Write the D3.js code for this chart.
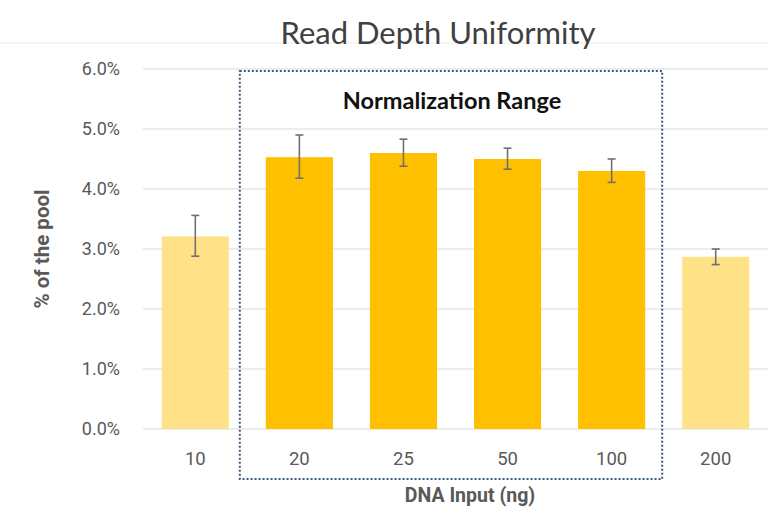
<!DOCTYPE html>
<html>
<head>
<meta charset="utf-8">
<script src="https://cdn.jsdelivr.net/npm/d3@7"></script>
<style>
  body { margin: 0; background: #fff; }
</style>
</head>
<body>
<div id="chart"></div>
<script>
// data
const categories = ["10", "20", "25", "50", "100", "200"];
const values = [3.21, 4.53, 4.60, 4.50, 4.30, 2.87];
const errLow = [2.88, 4.18, 4.38, 4.33, 4.11, 2.74];
const errHigh = [3.56, 4.90, 4.83, 4.68, 4.50, 3.00];
const inRange = [false, true, true, true, true, false];
const yTicks = [0, 1, 2, 3, 4, 5, 6];

const W = 768, H = 516;
const svg = d3.select("#chart")
    .append("svg")
    .attr("width", W)
    .attr("height", H);

const x = d3.scaleBand()
    .domain(categories)
    .range([143, 768])
    .paddingInner(0.355)
    .paddingOuter(0.18);

const y = d3.scaleLinear()
    .domain([0, 6])
    .range([429, 69]);

// faint line under the title
svg.append("line")
    .attr("x1", 0).attr("x2", W)
    .attr("y1", 43).attr("y2", 43)
    .attr("stroke", "#ececec")
    .attr("stroke-width", 1);

// gridlines
svg.append("g")
    .selectAll("line")
    .data(yTicks)
    .join("line")
    .attr("x1", 143).attr("x2", W)
    .attr("y1", d => y(d)).attr("y2", d => y(d))
    .attr("stroke", "#d9d9d9")
    .attr("stroke-width", 1.2);

// y tick labels
svg.append("g")
    .selectAll("text")
    .data(yTicks)
    .join("text")
    .attr("x", 120)
    .attr("y", d => y(d))
    .attr("dy", "0.35em")
    .attr("text-anchor", "end")
    .attr("font-family", "Roboto, Arial, sans-serif")
    .attr("font-size", 18)
    .attr("fill", "#595959")
    .text(d => d.toFixed(1) + "%");

// bars
svg.append("g")
    .selectAll("rect")
    .data(categories)
    .join("rect")
    .attr("x", d => x(d))
    .attr("width", x.bandwidth())
    .attr("y", (d, i) => y(values[i]))
    .attr("height", (d, i) => y(0) - y(values[i]))
    .attr("fill", (d, i) => inRange[i] ? "#ffc000" : "#ffe288");

// error bars
const eb = svg.append("g")
    .attr("stroke", "#707070")
    .attr("stroke-width", 1.6);
categories.forEach((c, i) => {
  const cx = x(c) + x.bandwidth() / 2;
  eb.append("line")
      .attr("x1", cx).attr("x2", cx)
      .attr("y1", y(errLow[i])).attr("y2", y(errHigh[i]));
  [errLow[i], errHigh[i]].forEach(v => {
    eb.append("line")
        .attr("x1", cx - 4).attr("x2", cx + 4)
        .attr("y1", y(v)).attr("y2", y(v));
  });
});

// x tick labels
svg.append("g")
    .selectAll("text")
    .data(categories)
    .join("text")
    .attr("x", d => x(d) + x.bandwidth() / 2)
    .attr("y", 465)
    .attr("text-anchor", "middle")
    .attr("font-family", "Roboto, Arial, sans-serif")
    .attr("font-size", 18.5)
    .attr("fill", "#595959")
    .text(d => d);

// normalization range box
const boxLeft = x("20") - 26;
const boxRight = x("100") + x.bandwidth() + 17;
svg.append("rect")
    .attr("x", boxLeft)
    .attr("y", y(6) + 2)
    .attr("width", boxRight - boxLeft)
    .attr("height", 479 - (y(6) + 2))
    .attr("fill", "none")
    .attr("stroke", "#3d5a80")
    .attr("stroke-width", 2)
    .attr("stroke-dasharray", "2,2");

svg.append("text")
    .attr("x", (boxLeft + boxRight) / 2 + 1)
    .attr("y", 109)
    .attr("text-anchor", "middle")
    .attr("font-family", "Lato, sans-serif")
    .attr("font-weight", "bold")
    .attr("font-size", 23.5)
    .attr("fill", "#111")
    .text("Normalization Range");

// title
svg.append("text")
    .attr("x", 438)
    .attr("y", 44)
    .attr("text-anchor", "middle")
    .attr("font-family", "Lato, sans-serif")
    .attr("font-size", 31)
    .attr("fill", "#404040")
    .text("Read Depth Uniformity");

// axis titles
svg.append("text")
    .attr("x", 470)
    .attr("y", 502)
    .attr("text-anchor", "middle")
    .attr("font-family", "Roboto, Arial, sans-serif")
    .attr("font-weight", "bold")
    .attr("font-size", 19.5)
    .attr("fill", "#595959")
    .text("DNA Input (ng)");

svg.append("text")
    .attr("transform", "translate(49,249) rotate(-90)")
    .attr("text-anchor", "middle")
    .attr("font-family", "Roboto, Arial, sans-serif")
    .attr("font-weight", "bold")
    .attr("font-size", 20.5)
    .attr("fill", "#595959")
    .text("% of the pool");
</script>
</body>
</html>
